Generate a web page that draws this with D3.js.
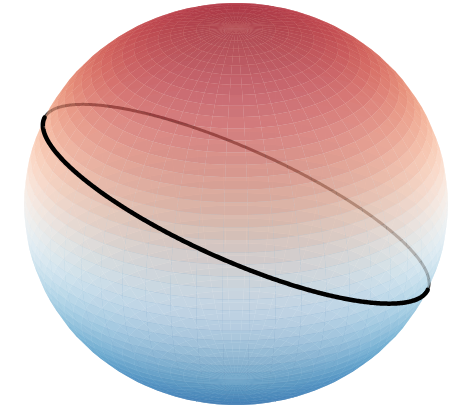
<!DOCTYPE html>
<html><head><meta charset="utf-8">
<script src="https://cdn.jsdelivr.net/npm/d3@7"></script>
<style>html,body{margin:0;padding:0;background:#fff;} svg{display:block;}</style>
</head><body><svg id="chart" width="456" height="411"></svg>
<script>
// Sphere mesh resolution: latitude bands and longitude segments
const latBands = 50;
const lonBands = 50;
// Camera elevation above the equator, degrees
const viewElevation = 28.4;
// Unit normal of the plane that cuts the great circle
const circleNormal = [0.41, 0.17, 0.89];
// Height z mapped onto the diverging scheme: top red, bottom blue
const colorDomain = [1.11, -1.11];
// Opacity of every surface patch
const surfaceOpacity = 0.65;

const width = 456, height = 411;
const cx = 236, cy = 204, rx = 212, ry = 201;

const x = d3.scaleLinear().domain([-1, 1]).range([cx - rx, cx + rx]);
const y = d3.scaleLinear().domain([-1, 1]).range([cy + ry, cy - ry]);
const color = d3.scaleSequential(d3.interpolateRdBu).domain(colorDomain);

const el = viewElevation * Math.PI / 180;
// world (x right, y away, z up) -> [screenX, screenYup, depth toward camera]
function view([px, py, pz]) {
  return [px, pz * Math.cos(el) + py * Math.sin(el), -py * Math.cos(el) + pz * Math.sin(el)];
}
function onSphere(latDeg, lonDeg) {
  const f = latDeg * Math.PI / 180, l = lonDeg * Math.PI / 180;
  return [Math.cos(f) * Math.cos(l), Math.cos(f) * Math.sin(l), Math.sin(f)];
}

const lats = d3.range(latBands + 1).map(i => -90 + 180 * i / latBands);
const lons = d3.range(lonBands + 1).map(j => 360 * j / lonBands);

const faces = [];
for (let i = 0; i < latBands; i++) {
  for (let j = 0; j < lonBands; j++) {
    const corners = [
      onSphere(lats[i], lons[j]), onSphere(lats[i], lons[j + 1]),
      onSphere(lats[i + 1], lons[j + 1]), onSphere(lats[i + 1], lons[j])
    ];
    const v = corners.map(view);
    faces.push({
      pts: v.map(q => [x(q[0]), y(q[1])]),
      z: d3.mean(corners, c => c[2]),
      depth: d3.mean(v, q => q[2])
    });
  }
}
faces.sort((a, b) => a.depth - b.depth);

// great circle samples
const nl = Math.hypot(...circleNormal);
const nn = circleNormal.map(c => c / nl);
let u = [nn[1], -nn[0], 0];
const ul = Math.hypot(...u); u = u.map(c => c / ul);
const w = [nn[1] * u[2] - nn[2] * u[1], nn[2] * u[0] - nn[0] * u[2], nn[0] * u[1] - nn[1] * u[0]];
const circle = d3.range(0, 721).map(k => {
  const t = k / 720 * 2 * Math.PI;
  return view([0, 1, 2].map(a => Math.cos(t) * u[a] + Math.sin(t) * w[a]));
});
// split into runs on the near and far side
const runs = [];
let cur = null;
circle.forEach(q => {
  const side = q[2] >= 0 ? "front" : "back";
  if (!cur || cur.side !== side) {
    const prev = cur ? cur.pts[cur.pts.length - 1] : null;
    if (cur) cur.pts.push(q);
    cur = { side, pts: prev ? [prev] : [] };
    runs.push(cur);
  }
  cur.pts.push(q);
});
if (runs.length > 1 && runs[0].side === runs[runs.length - 1].side) {
  const last = runs.pop();
  runs[0].pts = last.pts.concat(runs[0].pts);
}

const svg = d3.select("#chart");
const line = d3.line().x(q => x(q[0])).y(q => y(q[1]));

const drawFaces = list => svg.append("g").selectAll("path").data(list).join("path")
  .attr("d", f => "M" + f.pts.join("L") + "Z")
  .attr("fill", f => color(f.z))
  .attr("fill-opacity", surfaceOpacity);

// far hemisphere, far half of the circle, near hemisphere, near half of the circle
drawFaces(faces.filter(f => f.depth < 0));
svg.append("g").selectAll("path").data(runs.filter(r => r.side === "back")).join("path")
  .attr("d", r => line(r.pts)).attr("fill", "none").attr("stroke", "#000")
  .attr("stroke-opacity", 0.7)
  .attr("stroke-width", 3).attr("stroke-linecap", "round");
drawFaces(faces.filter(f => f.depth >= 0));
svg.append("g").selectAll("path").data(runs.filter(r => r.side === "front")).join("path")
  .attr("d", r => line(r.pts)).attr("fill", "none").attr("stroke", "#000")
  .attr("stroke-width", 4.5).attr("stroke-linecap", "round");
</script>
</body></html>
